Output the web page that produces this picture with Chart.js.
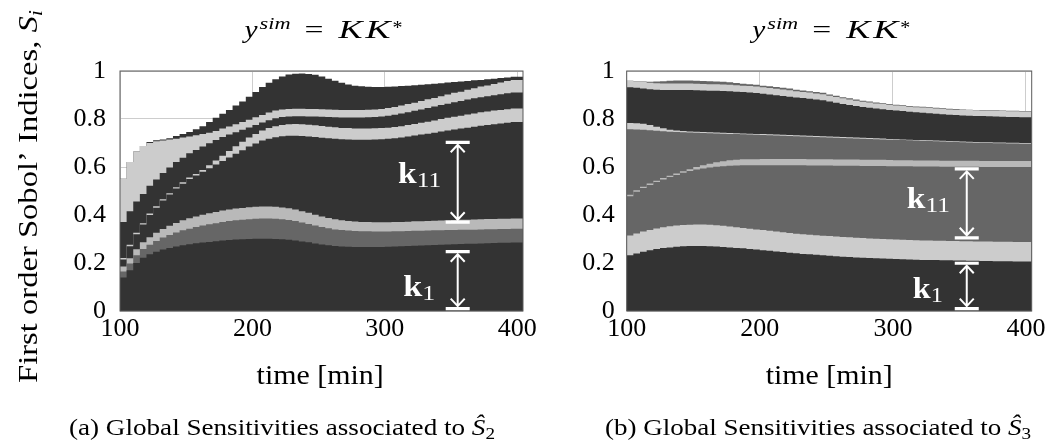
<!DOCTYPE html>
<html>
<head>
<meta charset="utf-8">
<script src="https://cdn.jsdelivr.net/npm/chart.js@4.4.1/dist/chart.umd.min.js"></script>
<style>
  html, body { margin: 0; padding: 0; background: #fff; }
  #figure { position: relative; width: 1051px; height: 443px; overflow: hidden; background: #fff; }
  #figure canvas { position: absolute; top: 0; }
</style>
</head>
<body>
<div id="figure">
  <canvas id="panelA" width="540" height="443" style="left:0px"></canvas>
  <canvas id="panelB" width="511" height="443" style="left:540px"></canvas>
</div>
<script>
// ---- time grid (minutes) and axis ticks ----
const timeMin = [100,105,110,115,120,125,130,135,140,145,
                 150,155,160,165,170,175,180,185,190,195,
                 200,205,210,215,220,225,230,235,240,245,
                 250,255,260,265,270,275,280,285,290,295,
                 300,305,310,315,320,325,330,335,340,345,
                 350,355,360,365,370,375,380,385,390,395,
                 400];
const xTicks = [100, 200, 300, 400];
const yTicks = [0, 0.2, 0.4, 0.6, 0.8, 1];

// ---- (a) first-order Sobol' indices for S2, stacked bottom to top ----
const a_k1 = [0.12,0.14,0.17,0.2,0.222,0.236,0.247,0.256,0.263,0.269,
              0.274,0.278,0.282,0.285,0.288,0.291,0.294,0.296,0.298,0.299,
              0.3,0.301,0.301,0.301,0.3,0.299,0.297,0.294,0.29,0.286,
              0.281,0.277,0.274,0.271,0.269,0.268,0.267,0.267,0.267,0.267,
              0.267,0.268,0.269,0.27,0.271,0.272,0.273,0.274,0.275,0.276,
              0.277,0.278,0.279,0.28,0.28,0.281,0.282,0.283,0.284,0.284,
              0.285];
const a_p2 = [0.022,0.025,0.028,0.032,0.036,0.04,0.045,0.05,0.054,0.058,
              0.062,0.065,0.068,0.071,0.073,0.075,0.077,0.079,0.08,0.081,
              0.082,0.083,0.084,0.084,0.084,0.083,0.082,0.081,0.079,0.077,
              0.075,0.073,0.071,0.069,0.068,0.067,0.066,0.065,0.065,0.064,
              0.064,0.063,0.063,0.062,0.062,0.062,0.061,0.061,0.061,0.06,
              0.06,0.06,0.06,0.059,0.059,0.059,0.059,0.058,0.058,0.058,
              0.058];
const a_p3 = [0.018,0.02,0.022,0.025,0.028,0.031,0.034,0.036,0.038,0.04,
              0.042,0.043,0.044,0.045,0.046,0.047,0.048,0.048,0.049,0.049,
              0.05,0.05,0.05,0.05,0.05,0.049,0.049,0.048,0.047,0.046,
              0.045,0.044,0.043,0.042,0.041,0.04,0.04,0.039,0.039,0.039,
              0.039,0.039,0.039,0.039,0.039,0.04,0.04,0.04,0.04,0.041,
              0.041,0.041,0.041,0.041,0.042,0.042,0.042,0.042,0.042,0.042,
              0.042];
const a_k11 = [0.03,0.03,0.05,0.063,0.074,0.093,0.104,0.118,0.13,0.143,
               0.152,0.164,0.171,0.179,0.188,0.197,0.206,0.217,0.228,0.241,
               0.253,0.264,0.275,0.283,0.29,0.297,0.302,0.307,0.313,0.318,
               0.324,0.328,0.332,0.336,0.338,0.34,0.341,0.343,0.343,0.345,
               0.346,0.348,0.349,0.352,0.355,0.357,0.361,0.364,0.367,0.371,
               0.374,0.377,0.38,0.384,0.387,0.39,0.392,0.395,0.397,0.4,
               0.402];
const a_p5 = [0.006,0.006,0.006,0.006,0.006,0.006,0.006,0.006,0.006,0.006,
              0.006,0.006,0.006,0.008,0.012,0.017,0.022,0.027,0.031,0.035,
              0.038,0.04,0.042,0.044,0.046,0.047,0.048,0.049,0.049,0.049,
              0.049,0.049,0.048,0.048,0.047,0.047,0.046,0.046,0.046,0.046,
              0.046,0.046,0.047,0.047,0.048,0.048,0.049,0.05,0.051,0.052,
              0.053,0.053,0.054,0.055,0.055,0.056,0.056,0.057,0.057,0.057,
              0.057];
const a_p6 = [0.154,0.15,0.14,0.13,0.122,0.116,0.112,0.109,0.107,0.105,
              0.103,0.101,0.1,0.097,0.092,0.085,0.078,0.068,0.059,0.05,
              0.042,0.037,0.033,0.033,0.033,0.033,0.032,0.032,0.033,0.034,
              0.036,0.038,0.04,0.041,0.043,0.044,0.046,0.046,0.047,0.047,
              0.048,0.05,0.051,0.053,0.053,0.055,0.056,0.057,0.058,0.058,
              0.059,0.061,0.061,0.062,0.063,0.063,0.064,0.064,0.065,0.066,
              0.066];
const a_p7 = [0.143,0.18,0.205,0.209,0.2,0.178,0.159,0.135,0.117,0.097,
              0.084,0.07,0.061,0.052,0.044,0.038,0.035,0.034,0.033,0.032,
              0.032,0.032,0.032,0.032,0.032,0.032,0.032,0.032,0.032,0.032,
              0.032,0.032,0.032,0.032,0.032,0.032,0.032,0.032,0.032,0.032,
              0.032,0.032,0.032,0.033,0.034,0.034,0.035,0.036,0.036,0.037,
              0.038,0.039,0.039,0.041,0.042,0.044,0.045,0.047,0.049,0.051,
              0.052];
const a_p8 = [0,0,0,0,0,0.004,0.004,0.005,0.005,0.011,
              0.014,0.019,0.025,0.033,0.044,0.055,0.062,0.069,0.078,0.086,
              0.096,0.106,0.116,0.124,0.131,0.137,0.143,0.146,0.147,0.146,
              0.142,0.136,0.128,0.12,0.113,0.106,0.101,0.098,0.095,0.093,
              0.091,0.088,0.085,0.081,0.077,0.073,0.068,0.063,0.059,0.054,
              0.05,0.045,0.042,0.036,0.033,0.028,0.026,0.022,0.019,0.015,
              0.014];

// ---- (b) first-order Sobol' indices for S3, stacked bottom to top ----
const b_k1 = [0.222,0.232,0.24,0.247,0.253,0.258,0.262,0.265,0.268,0.27,
              0.271,0.271,0.271,0.27,0.269,0.267,0.265,0.263,0.261,0.258,
              0.256,0.253,0.251,0.248,0.246,0.243,0.241,0.238,0.236,0.234,
              0.232,0.23,0.228,0.226,0.225,0.223,0.222,0.221,0.22,0.219,
              0.218,0.217,0.216,0.215,0.214,0.213,0.213,0.212,0.211,0.211,
              0.21,0.21,0.209,0.209,0.208,0.208,0.207,0.207,0.207,0.206,
              0.206];
const b_p2 = [0.083,0.083,0.083,0.084,0.085,0.086,0.087,0.088,0.088,0.088,
              0.088,0.089,0.089,0.089,0.088,0.088,0.087,0.086,0.085,0.085,
              0.084,0.084,0.083,0.083,0.082,0.082,0.081,0.082,0.082,0.082,
              0.082,0.082,0.082,0.082,0.082,0.082,0.082,0.081,0.081,0.081,
              0.081,0.081,0.081,0.081,0.081,0.081,0.081,0.081,0.082,0.081,
              0.082,0.081,0.082,0.081,0.082,0.082,0.082,0.082,0.082,0.082,
              0.082];
const b_k11 = [0.148,0.163,0.174,0.181,0.187,0.193,0.199,0.205,0.211,0.218,
               0.224,0.23,0.234,0.239,0.244,0.248,0.253,0.257,0.261,0.264,
               0.267,0.27,0.273,0.276,0.279,0.282,0.285,0.287,0.288,0.29,
               0.292,0.294,0.295,0.297,0.298,0.3,0.3,0.302,0.303,0.304,
               0.304,0.305,0.306,0.307,0.307,0.308,0.308,0.309,0.308,0.309,
               0.309,0.31,0.31,0.311,0.31,0.31,0.311,0.311,0.311,0.312,
               0.312];
const b_p4 = [0.006,0.006,0.006,0.006,0.006,0.006,0.006,0.006,0.006,0.006,
              0.008,0.01,0.013,0.016,0.019,0.021,0.023,0.024,0.025,0.025,
              0.025,0.026,0.026,0.026,0.026,0.026,0.026,0.026,0.026,0.026,
              0.026,0.026,0.026,0.026,0.026,0.026,0.026,0.026,0.026,0.026,
              0.026,0.025,0.025,0.025,0.025,0.025,0.025,0.025,0.025,0.025,
              0.025,0.025,0.025,0.025,0.025,0.025,0.025,0.025,0.025,0.025,
              0.025];
const b_p5 = [0.298,0.273,0.253,0.237,0.222,0.208,0.195,0.183,0.173,0.163,
              0.153,0.143,0.135,0.127,0.12,0.115,0.11,0.107,0.104,0.103,
              0.102,0.1,0.099,0.098,0.097,0.096,0.095,0.094,0.094,0.093,
              0.092,0.091,0.091,0.09,0.089,0.088,0.088,0.087,0.086,0.085,
              0.085,0.085,0.084,0.083,0.083,0.082,0.081,0.08,0.08,0.079,
              0.078,0.077,0.076,0.075,0.075,0.075,0.074,0.074,0.073,0.073,
              0.072];
const b_p6 = [0.026,0.026,0.026,0.025,0.022,0.017,0.012,0.008,0.006,0.005,
              0.004,0.004,0.004,0.004,0.004,0.004,0.004,0.004,0.004,0.004,
              0.004,0.004,0.004,0.004,0.004,0.004,0.004,0.004,0.004,0.004,
              0.004,0.004,0.004,0.004,0.004,0.004,0.004,0.004,0.004,0.004,
              0.003,0.003,0.003,0.003,0.003,0.003,0.003,0.003,0.003,0.003,
              0.003,0.003,0.003,0.003,0.003,0.003,0.003,0.003,0.003,0.003,
              0.003];
const b_p7 = [0.15,0.149,0.148,0.147,0.149,0.154,0.16,0.166,0.169,0.171,
              0.173,0.173,0.173,0.173,0.174,0.174,0.174,0.173,0.172,0.171,
              0.17,0.168,0.166,0.164,0.162,0.16,0.158,0.156,0.154,0.152,
              0.15,0.146,0.142,0.138,0.134,0.131,0.128,0.126,0.124,0.122,
              0.121,0.119,0.118,0.116,0.115,0.114,0.113,0.112,0.111,0.11,
              0.11,0.109,0.109,0.109,0.109,0.108,0.108,0.107,0.107,0.107,
              0.107];
const b_p8 = [0.027,0.027,0.027,0.027,0.027,0.027,0.027,0.027,0.027,0.027,
              0.027,0.027,0.027,0.027,0.027,0.027,0.027,0.027,0.027,0.027,
              0.027,0.027,0.027,0.027,0.027,0.027,0.026,0.026,0.026,0.025,
              0.025,0.024,0.024,0.023,0.023,0.022,0.022,0.022,0.021,0.021,
              0.021,0.021,0.021,0.021,0.021,0.022,0.022,0.022,0.022,0.022,
              0.022,0.023,0.023,0.023,0.023,0.023,0.024,0.024,0.024,0.024,
              0.024];
const b_p9 = [0,0,0.001,0.002,0.004,0.007,0.009,0.011,0.012,0.012,
              0.012,0.012,0.012,0.012,0.011,0.011,0.01,0.009,0.008,0.008,
              0.008,0.007,0.007,0.007,0.007,0.007,0.006,0.006,0.006,0.006,
              0.006,0.005,0.005,0.005,0.005,0.005,0.004,0.004,0.004,0.004,
              0.004,0.003,0.003,0.003,0.003,0.003,0.003,0.003,0.003,0.003,
              0.003,0.002,0.002,0.002,0.002,0.002,0.002,0.002,0.002,0.002,
              0.002];

// ---- styling ----
const DARK = '#333333', MID = '#666666', LIGHT = '#cccccc', LIGHT2 = '#b9b9b9';
const SERIF = "'Liberation Serif', 'Times New Roman', serif";
const font = (size, style) => (style ? style + ' ' : '') + size + 'px ' + SERIF;

// each value holds over [t, t + dt); the closing point ends the last step
function stepPoints(values) {
  const dt = timeMin[1] - timeMin[0];
  const pts = timeMin.map((t, i) => ({ x: t, y: values[i] }));
  pts.push({ x: timeMin[timeMin.length - 1] + dt, y: values[values.length - 1] });
  return pts;
}

// draws a run of text pieces, stretched horizontally to the given width
function fitText(ctx, parts, left, baseline, width) {
  let total = 0;
  for (const p of parts) { ctx.font = p.font; p.w = ctx.measureText(p.text).width; total += p.w; }
  const sx = width ? width / total : 1;
  ctx.save();
  ctx.translate(left, baseline);
  ctx.scale(sx, 1);
  let x = 0;
  for (const p of parts) { ctx.font = p.font; ctx.fillText(p.text, x, p.dy || 0); x += p.w; }
  ctx.restore();
}

// white double-headed span marker with end bars
function drawSpan(ctx, x, yTop, yBot) {
  ctx.strokeStyle = '#ffffff';
  ctx.lineCap = 'butt';
  ctx.lineWidth = 3.2;
  ctx.beginPath();
  ctx.moveTo(x - 12, yTop); ctx.lineTo(x + 12, yTop);
  ctx.moveTo(x - 12, yBot); ctx.lineTo(x + 12, yBot);
  ctx.stroke();
  ctx.lineWidth = 2;
  ctx.beginPath();
  ctx.moveTo(x, yTop + 2); ctx.lineTo(x, yBot - 2);
  ctx.moveTo(x - 7, yTop + 10); ctx.lineTo(x, yTop + 2.5); ctx.lineTo(x + 7, yTop + 10);
  ctx.moveTo(x - 7, yBot - 10); ctx.lineTo(x, yBot - 2.5); ctx.lineTo(x + 7, yBot - 10);
  ctx.stroke();
}

function panelDecor(spec) {
  return {
    id: 'panelDecor',
    afterDraw(chart) {
      const ctx = chart.ctx, area = chart.chartArea;
      const xs = chart.scales.x, ys = chart.scales.y;
      ctx.save();
      ctx.textAlign = 'left';
      ctx.textBaseline = 'alphabetic';

      // axis frame
      ctx.strokeStyle = '#5a5a5a';
      ctx.lineWidth = 1;
      ctx.strokeRect(area.left, area.top, area.right - area.left, area.bottom - area.top);

      // parameter spans with their names
      for (const s of spec.spans) {
        drawSpan(ctx, xs.getPixelForValue(s.t), ys.getPixelForValue(s.hi), ys.getPixelForValue(s.lo));
      }
      ctx.fillStyle = '#ffffff';
      for (const l of spec.names) {
        fitText(ctx, [{ text: 'k', font: font(29, 'bold') }, { text: l.sub, font: font(22), dy: 4 }],
                xs.getPixelForValue(l.t), ys.getPixelForValue(l.v), l.w);
      }

      // panel title  y^sim = KK*
      ctx.fillStyle = '#000000';
      const cx = (area.left + area.right) / 2;
      const t0 = cx - 78 + spec.titleShift;
      fitText(ctx, [{ text: 'y', font: font(25, 'italic') }], t0, 38, 13);
      fitText(ctx, [{ text: 'sim', font: font(16, 'italic') }], t0 + 15, 29, 31);
      fitText(ctx, [{ text: '=', font: font(25) }], t0 + 60, 38, 19);
      fitText(ctx, [{ text: 'K', font: font(26, 'italic') }], t0 + 94, 38, 24);
      fitText(ctx, [{ text: 'K', font: font(26, 'italic') }], t0 + 121, 38, 25);
      fitText(ctx, [{ text: '*', font: font(18) }], t0 + 148, 34, 10);

      // x-axis title
      fitText(ctx, [{ text: 'time [min]', font: font(27) }], cx - 63.5 + spec.xTitleShift, 384, 127);

      // sub-figure caption
      fitText(ctx, [{ text: spec.caption, font: font(24) },
                    { text: '\u015C', font: font(24, 'italic') },
                    { text: spec.captionSub, font: font(17), dy: 4 }],
              spec.captionLeft, 435, 426);

      // shared y-axis title
      if (spec.yTitle) {
        ctx.save();
        ctx.translate(37, 196.5);
        ctx.rotate(-Math.PI / 2);
        fitText(ctx, [{ text: 'First order Sobol\u2019 Indices, ', font: font(28) },
                      { text: 'S', font: font(28, 'italic') },
                      { text: 'i', font: font(19, 'italic'), dy: 5 }],
                -186.5, 0, 373);
        ctx.restore();
      }
      ctx.restore();
    }
  };
}

function makePanel(canvasId, series, colors, names, axisWidth, rightPad, tickPad, spec) {
  const datasets = series.map((vals, i) => ({
    label: names[i],
    data: stepPoints(vals),
    backgroundColor: colors[i],
    borderColor: 'rgba(0,0,0,0)',
    borderWidth: 0,
    pointRadius: 0,
    pointHoverRadius: 0,
    stepped: 'after',
    fill: 'origin'
  }));
  const tickFont = { family: SERIF, size: 26 };
  return new Chart(document.getElementById(canvasId), {
    type: 'line',
    data: { datasets },
    plugins: [panelDecor(spec)],
    options: {
      responsive: false,
      animation: false,
      devicePixelRatio: 1,
      layout: { padding: { left: 0, top: 71, right: rightPad, bottom: 0 } },
      plugins: { legend: { display: false }, tooltip: { enabled: false } },
      scales: {
        x: {
          type: 'linear', min: 100, max: 404.3,
          grid: { color: '#cdcdcd', lineWidth: 1, drawTicks: false },
          border: { display: false },
          ticks: { font: tickFont, color: '#000', padding: 3, maxRotation: 0, autoSkip: false,
                   callback: v => String(v) },
          afterBuildTicks: s => { s.ticks = xTicks.map(v => ({ value: v })); },
          afterFit: s => { s.height = 132; }
        },
        y: {
          type: 'linear', stacked: true, min: 0, max: 1,
          grid: { color: '#cdcdcd', lineWidth: 1, drawTicks: false },
          border: { display: false },
          ticks: { font: tickFont, color: '#000', padding: tickPad, callback: v => String(v) },
          afterBuildTicks: s => { s.ticks = yTicks.map(v => ({ value: v })); },
          afterFit: s => { s.width = axisWidth; }
        }
      }
    }
  });
}

makePanel('panelA',
  [a_k1, a_p2, a_p3, a_k11, a_p5, a_p6, a_p7, a_p8],
  [DARK, MID, LIGHT2, DARK, LIGHT, DARK, LIGHT, DARK],
  ['k1', 'p2', 'p3', 'k11', 'p5', 'p6', 'p7', 'p8'],
  120, 14.3, 14,
  {
    spans: [{ t: 355, lo: 0.37, hi: 0.703 }, { t: 355, lo: 0.01, hi: 0.247 }],
    names: [{ sub: '11', t: 310, v: 0.535, w: 43 }, { sub: '1', t: 313.8, v: 0.0625, w: 32 }],
    titleShift: 1, xTitleShift: -1.4,
    caption: '(a) Global Sensitivities associated to ', captionSub: '2', captionLeft: 69,
    yTitle: true
  });

makePanel('panelB',
  [b_k1, b_p2, b_k11, b_p4, b_p5, b_p6, b_p7, b_p8, b_p9],
  [DARK, LIGHT, MID, LIGHT2, MID, LIGHT, DARK, LIGHT, MID],
  ['k1', 'p2', 'k11', 'p4', 'p5', 'p6', 'p7', 'p8', 'p9'],
  86.7, 19.3, 12,
  {
    spans: [{ t: 355.5, lo: 0.305, hi: 0.592 }, { t: 355.5, lo: 0.01, hi: 0.199 }],
    names: [{ sub: '11', t: 310.5, v: 0.429, w: 43 }, { sub: '1', t: 315, v: 0.054, w: 30 }],
    titleShift: 1, xTitleShift: 0,
    caption: '(b) Global Sensitivities associated to ', captionSub: '3', captionLeft: 65,
    yTitle: false
  });
</script>
</body>
</html>
